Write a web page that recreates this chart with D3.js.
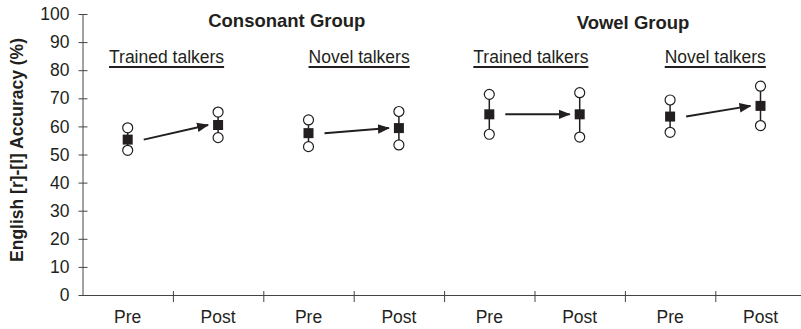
<!DOCTYPE html>
<html>
<head>
<meta charset="utf-8">
<script src="https://cdn.jsdelivr.net/npm/d3@7"></script>
<style>
  html, body { margin: 0; padding: 0; background: #fff; }
  svg { display: block; font-family: "Liberation Sans", Arial, sans-serif; }
</style>
</head>
<body>
<svg id="chart"></svg>
<script>
// values
const categories = ["Pre", "Post", "Pre", "Post", "Pre", "Post", "Pre", "Post"];
const means = [55.3, 60.5, 57.6, 59.4, 64.3, 64.3, 63.5, 67.3];
const upper = [59.5, 65.1, 62.3, 65.3, 71.4, 72.0, 69.4, 74.3];
const lower = [51.5, 56.0, 52.8, 53.4, 57.2, 56.2, 57.9, 60.3];
const yTicks = [0, 10, 20, 30, 40, 50, 60, 70, 80, 90, 100];
const groupLabels = ["Consonant Group", "Vowel Group"];
const talkerLabels = ["Trained talkers", "Novel talkers", "Trained talkers", "Novel talkers"];

const width = 801, height = 329;
const ink = "#231f20";

const svg = d3.select("#chart")
  .attr("width", width)
  .attr("height", height);

const x0 = 82.5, bandW = 90.4;
const xLin = d3.scaleLinear().domain([0, 8]).range([x0, x0 + 8 * bandW]);
const x = d3.scaleBand().domain(d3.range(categories.length)).range([x0, x0 + 8 * bandW]);
const y = d3.scaleLinear().domain([0, 100]).range([295, 14]);
const cx = i => x(i) + x.bandwidth() / 2;

// y axis
const gy = svg.append("g")
  .attr("transform", `translate(${x0},0)`)
  .call(d3.axisLeft(y).tickValues(yTicks).tickSize(4).tickSizeOuter(0).tickPadding(9));
gy.selectAll(".tick line").attr("x1", 5).attr("x2", -4);

// x axis: tick marks between pre/post, labels at band centres
const gx = svg.append("g")
  .attr("transform", `translate(0,${y(0)})`)
  .call(d3.axisBottom(xLin).tickValues(d3.range(1, 8)).tickFormat("").tickSizeOuter(0));
gx.selectAll(".tick line").attr("y1", -4).attr("y2", 7);

const gxl = svg.append("g")
  .attr("transform", `translate(0,${y(0)})`)
  .call(d3.axisBottom(x).tickFormat(i => categories[i]).tickSize(0).tickPadding(15.5));
gxl.select(".domain").remove();

svg.selectAll(".domain, .tick line").attr("stroke", "#444").attr("stroke-width", 1);
svg.selectAll(".tick text").attr("font-size", 17.5).attr("fill", ink)
  .attr("font-family", "'Liberation Sans', Arial, sans-serif");

// y title
svg.append("text")
  .attr("transform", `translate(23,150) rotate(-90)`)
  .attr("text-anchor", "middle")
  .attr("font-size", 17.5)
  .attr("font-weight", "bold")
  .attr("fill", ink)
  .text("English [r]-[l] Accuracy (%)");

// group titles
const groupX = [2.26, 6.09];
svg.selectAll(".group")
  .data(groupLabels)
  .join("text")
  .attr("class", "group")
  .attr("x", (d, i) => xLin(groupX[i]))
  .attr("y", (d, i) => i === 0 ? 27 : 29)
  .attr("text-anchor", "middle")
  .attr("font-size", 18.5)
  .attr("font-weight", "bold")
  .attr("fill", ink)
  .text(d => d);

// underlined talker labels
const talkerX = [0.93, 3.06, 4.96, 7.0];
talkerLabels.forEach((d, i) => {
  const t = svg.append("text")
    .attr("x", xLin(talkerX[i]))
    .attr("y", 63)
    .attr("text-anchor", "middle")
    .attr("font-size", 17.5)
    .attr("fill", ink)
    .text(d);
  const w = t.node().getComputedTextLength();
  svg.append("line")
    .attr("x1", xLin(talkerX[i]) - w / 2)
    .attr("x2", xLin(talkerX[i]) + w / 2)
    .attr("y1", 67).attr("y2", 67)
    .attr("stroke", ink)
    .attr("stroke-width", 1.8);
});

// arrow head
svg.append("defs").append("marker")
  .attr("id", "arrow")
  .attr("markerUnits", "userSpaceOnUse")
  .attr("viewBox", "0 -6 12 12")
  .attr("refX", 11).attr("refY", 0)
  .attr("markerWidth", 12).attr("markerHeight", 12)
  .attr("orient", "auto")
  .append("path")
  .attr("d", "M0,-4.8L12,0L0,4.8Z")
  .attr("fill", ink);

// pre -> post arrows
const pairs = d3.range(0, categories.length, 2);
svg.selectAll(".arrow")
  .data(pairs)
  .join("line")
  .attr("class", "arrow")
  .attr("x1", i => cx(i) + 16)
  .attr("y1", i => y(means[i]))
  .attr("x2", i => cx(i + 1) - 10)
  .attr("y2", i => y(means[i + 1]))
  .attr("stroke", ink)
  .attr("stroke-width", 2)
  .attr("marker-end", "url(#arrow)");

// range lines
const idx = d3.range(categories.length);
svg.selectAll(".range")
  .data(idx)
  .join("line")
  .attr("class", "range")
  .attr("x1", cx).attr("x2", cx)
  .attr("y1", i => y(upper[i]))
  .attr("y2", i => y(lower[i]))
  .attr("stroke", ink)
  .attr("stroke-width", 1.5);

// open circles for the two ends
svg.selectAll(".hi")
  .data(idx)
  .join("circle")
  .attr("class", "hi")
  .attr("cx", cx)
  .attr("cy", i => y(upper[i]))
  .attr("r", 5)
  .attr("fill", "#fff")
  .attr("stroke", ink)
  .attr("stroke-width", 1.2);

svg.selectAll(".lo")
  .data(idx)
  .join("circle")
  .attr("class", "lo")
  .attr("cx", cx)
  .attr("cy", i => y(lower[i]))
  .attr("r", 5)
  .attr("fill", "#fff")
  .attr("stroke", ink)
  .attr("stroke-width", 1.2);

// mean squares
const sq = 10;
svg.selectAll(".mean")
  .data(idx)
  .join("rect")
  .attr("class", "mean")
  .attr("x", i => cx(i) - sq / 2)
  .attr("y", i => y(means[i]) - sq / 2)
  .attr("width", sq)
  .attr("height", sq)
  .attr("fill", ink);
</script>
</body>
</html>
